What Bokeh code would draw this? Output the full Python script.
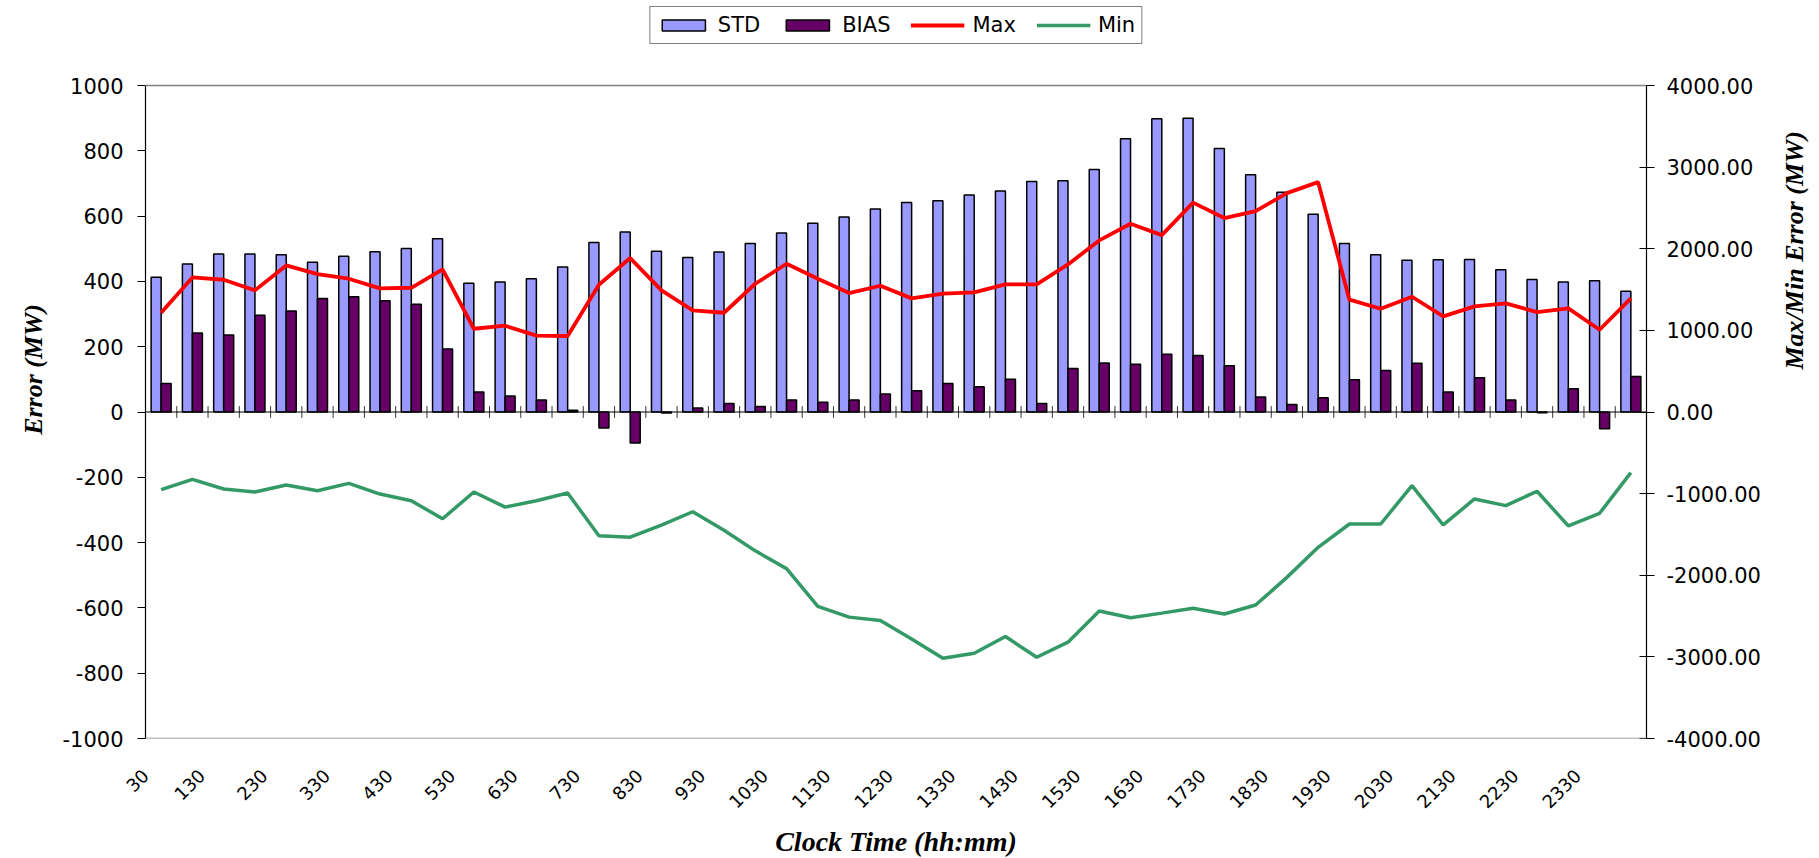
import math
from bokeh.plotting import figure
from bokeh.models import (Range1d, LinearAxis, FixedTicker, CustomJSTickFormatter,
                          Span, Legend, LegendItem, ColumnDataSource)
from bokeh.transform import dodge
from bokeh.embed import file_html
from bokeh.resources import INLINE

# ---------------- data ----------------
times = ["30", "100", "130", "200", "230", "300", "330", "400", "430", "500",
         "530", "600", "630", "700", "730", "800", "830", "900", "930", "1000",
         "1030", "1100", "1130", "1200", "1230", "1300", "1330", "1400", "1430", "1500",
         "1530", "1600", "1630", "1700", "1730", "1800", "1830", "1900", "1930", "2000",
         "2030", "2100", "2130", "2200", "2230", "2300", "2330", "2400"]

std = [413, 453, 484, 484, 482, 459, 477, 491, 501, 531,
       394, 398, 408, 444, 519, 551, 492, 473, 490, 516,
       548, 578, 597, 622, 642, 647, 665, 677, 706, 708,
       743, 837, 898, 900, 807, 727, 673, 606, 516, 482,
       465, 466, 467, 436, 406, 398, 402, 370]

bias = [87, 242, 236, 296, 309, 348, 353, 341, 330, 193,
        61, 49, 37, 5, -49, -95, -3, 12, 26, 17,
        37, 30, 37, 55, 65, 87, 77, 100, 26, 133,
        150, 146, 177, 173, 142, 46, 23, 44, 99, 127,
        149, 61, 105, 37, -2, 71, -51, 109]

max_err = [1216, 1649, 1620, 1490, 1796, 1690, 1633, 1514, 1522, 1747,
           1020, 1057, 935, 931, 1559, 1886, 1490, 1245, 1216, 1571,
           1816, 1633, 1457, 1547, 1392, 1449, 1465, 1563, 1563, 1808,
           2102, 2306, 2167, 2565, 2376, 2461, 2682, 2816, 1376, 1265,
           1412, 1171, 1294, 1331, 1224, 1269, 1008, 1392]

min_err = [-951, -825, -943, -980, -894, -964, -874, -1005, -1087, -1308,
           -980, -1165, -1087, -993, -1517, -1534, -1386, -1222, -1448, -1701,
           -1919, -2382, -2513, -2554, -2780, -3017, -2956, -2751, -3005, -2820,
           -2439, -2521, -2464, -2404, -2475, -2365, -2026, -1658, -1372, -1372,
           -902, -1384, -1065, -1147, -971, -1396, -1241, -743]

left_lim = (-1000, 1000)
right_lim = (-4000, 4000)
left_ticks = list(range(-1000, 1001, 200))
right_ticks = list(range(-4000, 4001, 1000))

# ---------------- layout numbers (pixels) ----------------
PLOT_W, PLOT_H = 1501, 653      # axes box
TOP_SPACE = 85                   # room above the axes box for the legend
n = len(times)
idx = list(range(n))
src = ColumnDataSource(dict(x=idx, std=std, bias=bias, mx=max_err, mn=min_err))

# the frame also holds the legend strip above the axes box
l_span = left_lim[1] - left_lim[0]
r_span = right_lim[1] - right_lim[0]
l_extra = TOP_SPACE * l_span / PLOT_H
r_extra = TOP_SPACE * r_span / PLOT_H

TICK_FONT = "DejaVu Sans"
TITLE_FONT = "Liberation Serif"

p = figure(frame_width=PLOT_W, frame_height=PLOT_H + TOP_SPACE,
           x_range=Range1d(-0.5, n - 0.5),
           y_range=Range1d(left_lim[0], left_lim[1] + l_extra),
           min_border_left=145, min_border_right=160, min_border_top=0,
           min_border_bottom=100, output_backend="svg", toolbar_location=None,
           title_location=None,
           background_fill_color="white", border_fill_color="white")
p.extra_y_ranges = {"mw": Range1d(right_lim[0], right_lim[1] + r_extra)}
p.xgrid.visible = False
p.ygrid.visible = False
p.outline_line_color = None

# top and bottom border of the axes box
for yb in left_lim:
    p.add_layout(Span(location=yb, dimension="width", line_color="#808080",
                      line_width=1.5))


def style_title(ax, size):
    ax.axis_label_text_font = TITLE_FONT
    ax.axis_label_text_font_style = "bold italic"
    ax.axis_label_text_font_size = size
    ax.axis_label_text_color = "black"


def style_ticks(ax, size="21px"):
    ax.major_label_text_font = TICK_FONT
    ax.major_label_text_font_size = size
    ax.major_label_text_color = "black"


# left axis
ya = p.yaxis[0]
ya.ticker = FixedTicker(ticks=left_ticks)
ya.formatter = CustomJSTickFormatter(code="return tick.toFixed(0);")
ya.bounds = left_lim
ya.axis_line_color = "black"
ya.axis_line_width = 1.2
ya.major_tick_out = 8
ya.major_tick_in = 0
ya.major_tick_line_color = "black"
ya.minor_tick_line_color = None
ya.major_label_standoff = 14
style_ticks(ya)
ya.axis_label = "Error (MW)"
ya.axis_label_standoff = 11
style_title(ya, "26px")

# right axis
ra = LinearAxis(y_range_name="mw", ticker=FixedTicker(ticks=right_ticks),
                formatter=CustomJSTickFormatter(code="return tick.toFixed(2);"))
ra.bounds = right_lim
ra.axis_line_color = "black"
ra.axis_line_width = 1.2
ra.major_tick_out = 8
ra.major_tick_in = 7
ra.major_tick_line_color = "black"
ra.minor_tick_line_color = None
ra.major_label_standoff = 12
style_ticks(ra)
ra.axis_label = "Max/Min Error (MW)"
ra.axis_label_standoff = 31
ra.axis_label_orientation = math.pi / 2
style_title(ra, "26px")
p.add_layout(ra, "right")

# bottom axis (labels only, every other category); labels sit a little
# left of their category, as in the original
LABEL_SHIFT = 0.7
x_start = -0.5
label_ticks = [max(i - LABEL_SHIFT, x_start) for i in range(0, n, 2)]
xa = p.xaxis[0]
xa.ticker = FixedTicker(ticks=label_ticks)
xa.formatter = CustomJSTickFormatter(args=dict(labels=times, shift=LABEL_SHIFT),
                                     code="return labels[Math.round(tick + shift)];")
xa.axis_line_color = None
xa.major_tick_line_color = None
xa.minor_tick_line_color = None
xa.major_label_orientation = math.pi / 4
xa.major_label_standoff = 28
style_ticks(xa, "18px")
xa.axis_label = "Clock Time (hh:mm)"
xa.axis_label_standoff = 9
style_title(xa, "28px")

# zero line with category-boundary tick marks
p.add_layout(Span(location=0, dimension="width", line_color="black", line_width=1.2))
bx = [i + 0.5 for i in range(n - 1)]
p.segment(x0=bx, x1=bx, y0=[-18] * len(bx), y1=[18] * len(bx),
          line_color="#333333", line_width=1)

# bars
r_std = p.vbar(x=dodge("x", -0.16), top="std", bottom=0, width=0.32, source=src,
               fill_color="#9999FF", line_color="black", line_width=1.5)
r_bias = p.vbar(x=dodge("x", 0.16), top="bias", bottom=0, width=0.32, source=src,
                fill_color="#660066", line_color="black", line_width=1.5)

# lines
r_max = p.line("x", "mx", source=src, y_range_name="mw", line_color="#FF0000",
               line_width=3.8)
r_min = p.line("x", "mn", source=src, y_range_name="mw", line_color="#339966",
               line_width=3.5)

# legend at the top of the frame strip
legend = Legend(items=[LegendItem(label="STD", renderers=[r_std]),
                       LegendItem(label="BIAS", renderers=[r_bias]),
                       LegendItem(label="Max", renderers=[r_max]),
                       LegendItem(label="Min", renderers=[r_min])],
                orientation="horizontal", location="top_center",
                border_line_color="black", border_line_width=1,
                background_fill_color="white", background_fill_alpha=1,
                glyph_width=54, glyph_height=14, label_standoff=8, spacing=20,
                padding=6, margin=6, label_text_font=TICK_FONT,
                label_text_font_size="21px", label_text_color="black")
p.add_layout(legend)

open("out.html", "w").write(file_html(p, INLINE))
